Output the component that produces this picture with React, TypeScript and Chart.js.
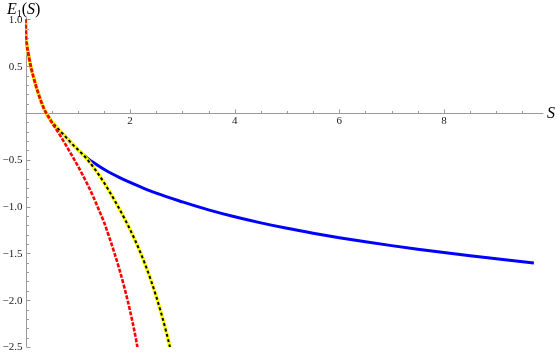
import React, { useEffect, useRef } from "react";
import { Chart, registerables } from "chart.js";

Chart.register(...registerables);

// Shared branch (all three curves coincide here)
const sharedS = [0, 0.01, 0.03, 0.05, 0.1, 0.15, 0.2, 0.25, 0.3, 0.35, 0.4, 0.45];
const sharedE = [1.0, 0.82, 0.71, 0.645, 0.5, 0.39, 0.29, 0.2, 0.12, 0.05, -0.005, -0.05];

// continuation common to blue & yellow
const midS = [0.5, 0.6, 0.7, 0.8, 0.9, 1.0, 1.1];
const midE = [-0.09, -0.155, -0.215, -0.275, -0.335, -0.39, -0.445];

// blue (exact) tail
const blueS = [1.2, 1.3, 1.4, 1.5, 1.6, 1.8, 2.0, 2.2, 2.5, 3.0, 3.5, 4.0, 4.5, 5.0, 5.5, 6.0, 6.5, 7.0, 7.5, 8.0, 8.5, 9.0, 9.72];
const blueE = [-0.49, -0.53, -0.567, -0.601, -0.633, -0.69, -0.742, -0.79, -0.857, -0.95, -1.035, -1.109, -1.174, -1.232, -1.284, -1.332, -1.376, -1.417, -1.455, -1.491, -1.525, -1.557, -1.603];

// yellow / black-dashed tail
const yellowS = [1.2, 1.3, 1.4, 1.5, 1.6, 1.7, 1.8, 1.9, 2.0, 2.1, 2.2, 2.3, 2.4, 2.5, 2.6, 2.7, 2.8];
const yellowE = [-0.51, -0.58, -0.658, -0.743, -0.834, -0.93, -1.03, -1.135, -1.246, -1.365, -1.494, -1.635, -1.79, -1.961, -2.15, -2.359, -2.591];

// red tail
const redS = [0.5, 0.6, 0.7, 0.8, 0.9, 1.0, 1.1, 1.2, 1.3, 1.4, 1.5, 1.6, 1.7, 1.8, 1.9, 2.0, 2.1, 2.2];
const redE = [-0.1, -0.185, -0.275, -0.37, -0.465, -0.565, -0.67, -0.78, -0.9, -1.03, -1.165, -1.325, -1.495, -1.68, -1.885, -2.115, -2.38, -2.69];

// axes
const xMin = 0;
const xMax = 9.9;
const yMin = -2.5;
const yMax = 1.02;
const xMajorTicks = [2, 4, 6, 8];
const xTickLabels = ["2", "4", "6", "8"];
const yMajorTicks = [1.0, 0.5, -0.5, -1.0, -1.5, -2.0, -2.5];
const yTickLabels = ["1.0", "0.5", "\u22120.5", "\u22121.0", "\u22121.5", "\u22122.0", "\u22122.5"];
const xMinorStep = 0.5;
const yMinorStep = 0.1;

const toPts = (xs: number[], ys: number[]) => xs.map((x, i) => ({ x, y: ys[i] }));

const axesPlugin = {
  id: "mmaAxes",
  beforeDatasetsDraw(chart: any) {
    const ctx = chart.ctx as CanvasRenderingContext2D;
    const xs = chart.scales.x;
    const ys = chart.scales.y;
    const x0 = xs.getPixelForValue(0);
    const y0 = ys.getPixelForValue(0);
    ctx.save();
    ctx.strokeStyle = "#9a9a9a";
    ctx.lineWidth = 1;
    // axis lines
    ctx.beginPath();
    ctx.moveTo(xs.getPixelForValue(xMin), Math.round(y0) + 0.5);
    ctx.lineTo(xs.getPixelForValue(xMax), Math.round(y0) + 0.5);
    ctx.moveTo(Math.round(x0) + 0.5, ys.getPixelForValue(yMin));
    ctx.lineTo(Math.round(x0) + 0.5, ys.getPixelForValue(yMax));
    ctx.stroke();
    // x ticks
    ctx.beginPath();
    for (let v = xMinorStep; v < xMax; v += xMinorStep) {
      const vv = Math.round(v * 100) / 100;
      const isMajor = xMajorTicks.some((t) => Math.abs(t - vv) < 1e-6);
      const px = Math.round(xs.getPixelForValue(vv)) + 0.5;
      const len = isMajor ? 4 : 2.5;
      ctx.moveTo(px, Math.round(y0) + 0.5);
      ctx.lineTo(px, Math.round(y0) + 0.5 - len);
    }
    // y ticks
    for (let k = Math.ceil(yMin / yMinorStep); k * yMinorStep <= yMax + 1e-9; k++) {
      const vv = Math.round(k * yMinorStep * 100) / 100;
      if (Math.abs(vv) < 1e-9) continue;
      const isMajor = yMajorTicks.some((t) => Math.abs(t - vv) < 1e-6);
      const py = Math.round(ys.getPixelForValue(vv)) + 0.5;
      const len = isMajor ? 4 : 2.5;
      ctx.moveTo(Math.round(x0) + 0.5, py);
      ctx.lineTo(Math.round(x0) + 0.5 + len, py);
    }
    ctx.stroke();

    // tick labels
    ctx.fillStyle = "#222";
    ctx.font = '11px "Liberation Serif", "DejaVu Serif", serif';
    ctx.textAlign = "center";
    ctx.textBaseline = "middle";
    xMajorTicks.forEach((t, i) => {
      ctx.fillText(xTickLabels[i], xs.getPixelForValue(t), y0 + 8.5);
    });
    ctx.textAlign = "right";
    yMajorTicks.forEach((t, i) => {
      ctx.fillText(yTickLabels[i], x0 - 3, ys.getPixelForValue(t) + 0.5);
    });

    // axis titles
    ctx.textAlign = "left";
    ctx.textBaseline = "alphabetic";
    ctx.fillStyle = "#000";
    let cx = 7;
    const by = 14;
    ctx.font = 'italic 16px "Liberation Serif", serif';
    ctx.fillText("E", cx, by);
    cx += ctx.measureText("E").width;
    ctx.font = '10px "Liberation Serif", serif';
    ctx.fillText("1", cx, by + 3);
    cx += ctx.measureText("1").width;
    ctx.font = '16px "Liberation Serif", serif';
    ctx.fillText("(", cx, by);
    cx += ctx.measureText("(").width;
    ctx.font = 'italic 16px "Liberation Serif", serif';
    ctx.fillText("S", cx, by);
    cx += ctx.measureText("S").width;
    ctx.font = '16px "Liberation Serif", serif';
    ctx.fillText(")", cx, by);

    ctx.font = 'italic 16px "Liberation Serif", serif';
    ctx.fillText("S", 547, y0 + 5);
    ctx.restore();
  },
};

export default function App() {
  const ref = useRef<HTMLCanvasElement | null>(null);
  useEffect(() => {
    if (!ref.current) return;
    const shared = toPts(sharedS, sharedE);
    const mid = toPts(midS, midE);
    const chart = new Chart(ref.current, {
      type: "line",
      data: {
        datasets: [
          {
            label: "red",
            data: shared.concat(toPts(redS, redE)),
            borderColor: "#ff0000",
            borderWidth: 2.6,
            borderDash: [4, 1.5],
            pointRadius: 0,
            cubicInterpolationMode: "monotone",
            order: 1,
          },
          {
            label: "black",
            data: shared.concat(mid, toPts(yellowS, yellowE)),
            borderColor: "#000000",
            borderWidth: 2,
            borderDash: [3, 2.5],
            pointRadius: 0,
            cubicInterpolationMode: "monotone",
            order: 2,
          },
          {
            label: "yellow",
            data: shared.concat(mid, toPts(yellowS, yellowE)),
            borderColor: "#ffff00",
            borderWidth: 3.6,
            pointRadius: 0,
            cubicInterpolationMode: "monotone",
            order: 3,
          },
          {
            label: "blue",
            data: shared.concat(mid, toPts(blueS, blueE)),
            borderColor: "#0000ff",
            borderWidth: 3,
            pointRadius: 0,
            cubicInterpolationMode: "monotone",
            order: 4,
          },
        ],
      },
      options: {
        animation: false,
        responsive: false,
        layout: { padding: { left: 25.5, right: 16.7, top: 17.5, bottom: 6 } },
        plugins: { legend: { display: false }, tooltip: { enabled: false } },
        scales: {
          x: { type: "linear", min: xMin, max: xMax, display: false },
          y: { type: "linear", min: yMin, max: yMax, display: false },
        },
      },
      plugins: [axesPlugin],
    });
    return () => chart.destroy();
  }, []);
  return (
    <div style={{ position: "absolute", left: 0, top: 0, width: 560, height: 353, background: "#fff" }}>
      <canvas ref={ref} width={560} height={353} />
    </div>
  );
}
